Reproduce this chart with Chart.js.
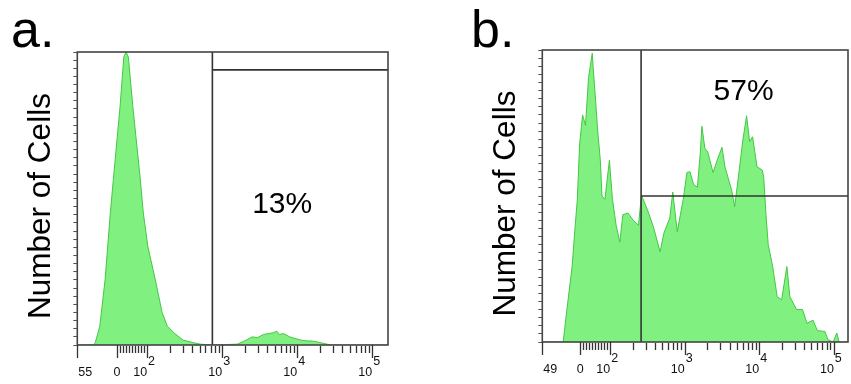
<!DOCTYPE html>
<html>
<head>
<meta charset="utf-8">
<script src="https://cdn.jsdelivr.net/npm/chart.js@4.4.1/dist/chart.umd.min.js"></script>
<style>
  html, body { margin: 0; padding: 0; background: #fff; }
  body { width: 851px; height: 384px; position: relative; overflow: hidden;
         font-family: "Liberation Sans", Arial, sans-serif; }
  .panel { position: absolute; top: 0; height: 384px; }
  .letter { position: absolute; font-size: 52px; line-height: 52px; color: #000; }
</style>
</head>
<body>
<div class="letter" style="left:11px;top:3px">a.</div>
<div class="letter" style="left:471px;top:3px">b.</div>
<div class="panel" style="left:0;width:400px"><canvas id="chart-a"></canvas></div>
<div class="panel" style="left:465px;width:386px"><canvas id="chart-b"></canvas></div>
<script>
var FONT = '"Liberation Sans", Arial, sans-serif';

// x is in display decades (2 = 10^2, 3 = 10^3 ...), y is number of cells
// panel a histogram
var xA = [1.07, 1.28, 1.31, 1.37, 1.44, 1.51, 1.55, 1.64, 1.69, 1.72, 1.75, 1.81, 1.91, 1.95, 2.01,
          2.11, 2.20, 2.27, 2.37, 2.48, 2.61, 2.71, 2.87, 3.20, 3.30, 3.40, 3.47, 3.55, 3.62, 3.68,
          3.73, 3.76, 3.82, 3.90, 3.97, 4.05, 4.13, 4.20, 4.30, 4.40, 4.47, 5.21];
var yA = [0, 0, 3, 23, 80, 162, 203, 293, 354, 360, 354, 293, 203, 162, 121,
          80, 40, 23, 14, 6, 3, 1, 0, 1, 5, 10, 9, 13, 14, 15,
          17, 13, 14, 10, 8, 6, 5, 5, 3, 1, 0, 0];

// panel b histogram
var xB = [1.09, 1.37, 1.42, 1.49, 1.53, 1.56, 1.59, 1.63, 1.67, 1.71, 1.76, 1.77, 1.80, 1.83, 1.87,
          1.89, 1.93, 1.99, 2.03, 2.08, 2.13, 2.17, 2.24, 2.31, 2.38, 2.42, 2.50, 2.58, 2.67, 2.72,
          2.80, 2.84, 2.90, 2.98, 3.03, 3.07, 3.12, 3.17, 3.21, 3.23, 3.27, 3.31, 3.38, 3.45, 3.50,
          3.54, 3.58, 3.63, 3.67, 3.71, 3.78, 3.83, 3.87, 3.91, 3.97, 4.04, 4.06, 4.09, 4.12, 4.18,
          4.24, 4.30, 4.37, 4.41, 4.50, 4.58, 4.64, 4.72, 4.78, 4.88, 4.92, 4.99, 5.04, 5.07, 5.19];
var yB = [0, 0, 40, 93, 142, 176, 243, 280, 267, 326, 356, 341, 304, 264, 222,
          180, 176, 224, 177, 144, 123, 157, 159, 150, 144, 181, 163, 142, 111, 134,
          153, 185, 136, 176, 209, 210, 194, 191, 234, 266, 239, 234, 209, 228, 240,
          216, 203, 187, 167, 196, 249, 279, 247, 253, 216, 212, 203, 157, 120, 93,
          56, 52, 93, 56, 40, 40, 23, 27, 14, 13, 3, 0, 11, 0, 0];

// axis ranges
var xRangeA = [1.07, 5.21];
var xRangeB = [1.09, 5.19];
var yMax = 360;

// gates: vertical position, horizontal level
var gateA = [2.87, 338];
var gateB = [2.415, 180];

// gate percentages and where they sit
var pctA = '13%', pctAtA = [3.80, 172];
var pctB = '57%', pctAtB = [3.79, 308];

// x tick labels
var majorTicks = [1.6, 2, 3, 4, 5];
var majorBase = ['0', '10', '10', '10', '10'];
var majorExp = ['', '2', '3', '4', '5'];
var minLabelA = '55';
var minLabelB = '49';
var linMinor = [1.64, 1.68, 1.72, 1.76, 1.80, 1.84, 1.88, 1.92, 1.96];
var decades = [2, 3, 4];
var decadeSteps = [2, 3, 4, 5, 6, 7, 8, 9];

function toPoints(xs, ys) {
  return xs.map(function (x, i) { return {x: x, y: ys[i]}; });
}

var flowPlot = {
  id: 'flowPlot',
  afterDatasetsDraw: function (chart, args, opts) {
    var ctx = chart.ctx, a = chart.chartArea, x = chart.scales.x, y = chart.scales.y;
    ctx.save();
    // frame
    ctx.strokeStyle = '#444';
    ctx.lineWidth = 1.6;
    ctx.strokeRect(a.left, a.top, a.right - a.left, a.bottom - a.top);

    // tick marks below the x axis
    ctx.lineWidth = 1.3;
    ctx.strokeStyle = '#333';
    var minors = linMinor.slice();
    decades.forEach(function (d) {
      decadeSteps.forEach(function (k) { minors.push(d + Math.log10(k)); });
    });
    ctx.beginPath();
    minors.forEach(function (v) {
      var px = Math.round(x.getPixelForValue(v)) + 0.5;
      ctx.moveTo(px, a.bottom + 1);
      ctx.lineTo(px, a.bottom + 8);
    });
    [x.min].concat(majorTicks).forEach(function (v) {
      var px = Math.round(x.getPixelForValue(v)) + 0.5;
      ctx.moveTo(px, a.bottom);
      ctx.lineTo(px, a.bottom + 13);
    });
    ctx.stroke();

    // tick labels
    ctx.fillStyle = '#111';
    ctx.font = '12.5px ' + FONT;
    ctx.textBaseline = 'alphabetic';
    var base = a.bottom + 31;
    ctx.textAlign = 'left';
    ctx.fillText(opts.minLabel, x.getPixelForValue(x.min) + 1, base);
    majorTicks.forEach(function (v, i) {
      var px = x.getPixelForValue(v);
      if (majorExp[i]) {
        ctx.textAlign = 'right';
        ctx.fillText(majorBase[i], px, base);
        ctx.textAlign = 'left';
        ctx.fillText(majorExp[i], px + 1, base - 11);
      } else {
        ctx.textAlign = 'center';
        ctx.fillText(majorBase[i], px, base);
      }
    });

    // gate percentage
    ctx.fillStyle = '#000';
    ctx.font = '30px ' + FONT;
    ctx.textAlign = 'center';
    ctx.textBaseline = 'middle';
    ctx.fillText(opts.label, x.getPixelForValue(opts.labelAt[0]), y.getPixelForValue(opts.labelAt[1]));
    ctx.restore();
  }
};

function makeChart(id, xs, ys, xRange, gate, label, labelAt, minLabel, pad) {
  var ctx = document.getElementById(id).getContext('2d');
  var gateStyle = {borderColor: '#333', borderWidth: 1.6, pointRadius: 0, fill: false, tension: 0};
  return new Chart(ctx, {
    type: 'line',
    data: {
      datasets: [
        Object.assign({data: [{x: gate[0], y: 0}, {x: gate[0], y: yMax}]}, gateStyle),
        Object.assign({data: [{x: gate[0], y: gate[1]}, {x: xRange[1], y: gate[1]}]}, gateStyle),
        {
          data: toPoints(xs, ys),
          borderColor: '#44c844',
          borderWidth: 1,
          backgroundColor: '#80f080',
          fill: 'origin',
          pointRadius: 0,
          tension: 0
        }
      ]
    },
    options: {
      responsive: true,
      maintainAspectRatio: false,
      animation: false,
      events: [],
      layout: {padding: pad},
      plugins: {
        legend: {display: false},
        tooltip: {enabled: false},
        flowPlot: {label: label, labelAt: labelAt, minLabel: minLabel}
      },
      scales: {
        x: {type: 'linear', display: false, min: xRange[0], max: xRange[1]},
        y: {
          type: 'linear', min: 0, max: yMax,
          ticks: {display: false, stepSize: 10},
          grid: {display: true, drawOnChartArea: false, drawTicks: true, tickLength: 4, color: '#555', lineWidth: 1},
          border: {display: false},
          title: {
            display: true, text: 'Number of Cells \u2009', color: '#000',
            font: {family: FONT, size: 31.5, lineHeight: 1.2},
            padding: {top: 22.4, bottom: 13.1}
          }
        }
      }
    },
    plugins: [flowPlot]
  });
}

makeChart('chart-a', xA, yA, xRangeA, gateA, pctA, pctAtA, minLabelA, {left: 0, right: 12, top: 52, bottom: 39});
makeChart('chart-b', xB, yB, xRangeB, gateB, pctB, pctAtB, minLabelB, {left: 0, right: 3, top: 50, bottom: 42});
</script>
</body>
</html>
